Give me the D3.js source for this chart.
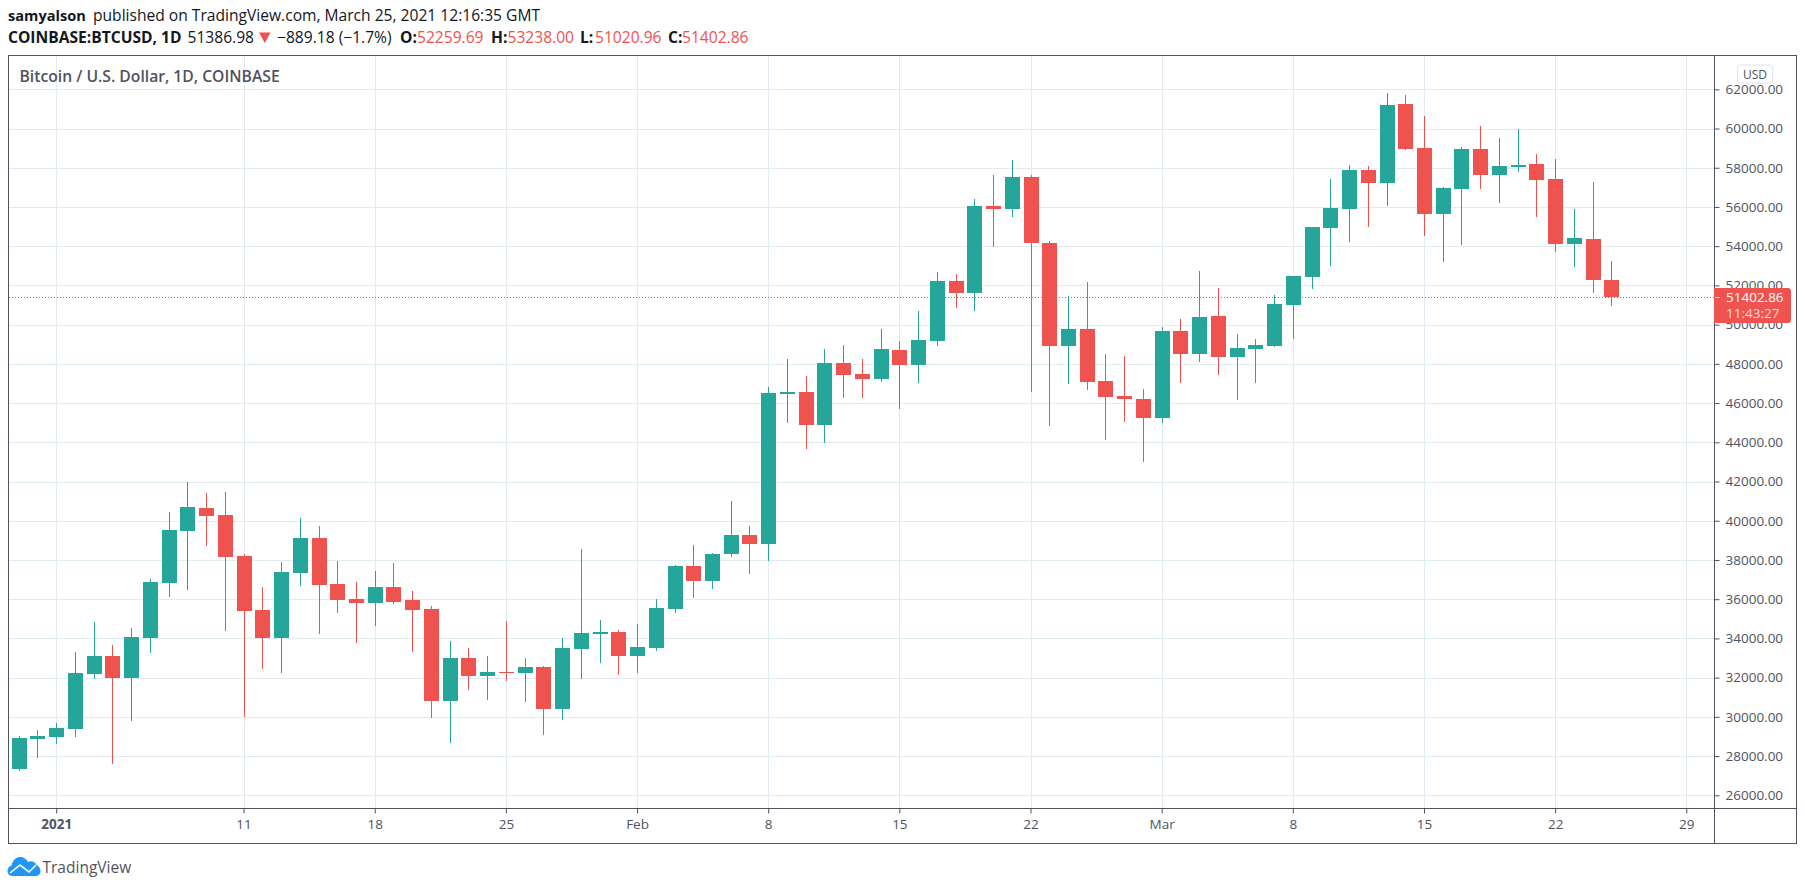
<!DOCTYPE html>
<html>
<head>
<meta charset="utf-8">
<script src="https://cdn.jsdelivr.net/npm/d3@7"></script>
<style>
	html, body { margin: 0; padding: 0; background: #fff; overflow: hidden; }
	text { font-family: "Open Sans", sans-serif; }
</style>
</head>
<body>
<svg id="svg"></svg>
<script>
const days = [
	"2020-12-30", "2020-12-31",
	"2021-01-01", "2021-01-02", "2021-01-03", "2021-01-04", "2021-01-05", "2021-01-06", "2021-01-07", "2021-01-08",
	"2021-01-09", "2021-01-10", "2021-01-11", "2021-01-12", "2021-01-13", "2021-01-14", "2021-01-15", "2021-01-16",
	"2021-01-17", "2021-01-18", "2021-01-19", "2021-01-20", "2021-01-21", "2021-01-22", "2021-01-23", "2021-01-24",
	"2021-01-25", "2021-01-26", "2021-01-27", "2021-01-28", "2021-01-29", "2021-01-30", "2021-01-31",
	"2021-02-01", "2021-02-02", "2021-02-03", "2021-02-04", "2021-02-05", "2021-02-06", "2021-02-07", "2021-02-08",
	"2021-02-09", "2021-02-10", "2021-02-11", "2021-02-12", "2021-02-13", "2021-02-14", "2021-02-15", "2021-02-16",
	"2021-02-17", "2021-02-18", "2021-02-19", "2021-02-20", "2021-02-21", "2021-02-22", "2021-02-23", "2021-02-24",
	"2021-02-25", "2021-02-26", "2021-02-27", "2021-02-28",
	"2021-03-01", "2021-03-02", "2021-03-03", "2021-03-04", "2021-03-05", "2021-03-06", "2021-03-07", "2021-03-08",
	"2021-03-09", "2021-03-10", "2021-03-11", "2021-03-12", "2021-03-13", "2021-03-14", "2021-03-15", "2021-03-16",
	"2021-03-17", "2021-03-18", "2021-03-19", "2021-03-20", "2021-03-21", "2021-03-22", "2021-03-23", "2021-03-24",
	"2021-03-25"
];
const opens = [
	27338, 28867, 28969, 29377, 32182, 33100, 31979, 34018, 36823, 39475,
	40649, 40291, 38200, 35446, 34018, 37333, 39118, 36772, 36007, 35803,
	36619, 35956, 35497, 30805, 32998, 32080, 32284, 32233, 32539, 30397,
	33457, 34222, 34324, 33100, 33508, 35497, 37690, 36925, 38302, 39271,
	38812, 46440, 46542, 44859, 48021, 47460, 47205, 48684, 47919, 49143,
	52203, 51591, 56028, 55875, 57507, 54141, 48888, 49755, 47103, 46338,
	46185, 45216, 49653, 48480, 50418, 48327, 48735, 48888, 50979, 52407,
	54906, 55875, 57864, 57201, 61230, 58986, 55620, 56895, 58935, 57609,
	58017, 58170, 57405, 54090, 54345, 52259.69
];
const highs = [
	29020, 29327, 29684, 33304, 34835, 33661, 34528, 37027, 40444, 41975,
	41414, 41465, 38302, 36619, 37894, 40138, 39730, 37945, 36874, 37435,
	37843, 36415, 35650, 33865, 33508, 33100, 34885, 32998, 32590, 34018,
	38557, 34936, 34426, 34732, 36007, 37741, 38761, 38353, 41005, 39730,
	46797, 48225, 47358, 48735, 48939, 48225, 49755, 49143, 50673, 52662,
	52560, 56385, 57609, 58374, 57609, 54243, 51438, 52152, 48480, 48378,
	46695, 49857, 50265, 52713, 51846, 49500, 49245, 51489, 52458, 54957,
	57405, 58119, 58068, 61791, 61689, 60618, 56997, 59037, 60108, 59496,
	59955, 58680, 58425, 55875, 57252, 53238
];
const lows = [
	27287, 27950, 28663, 29021, 31979, 27643, 29835, 33304, 36160, 36517,
	38761, 34426, 30040, 32488, 32284, 36721, 34273, 35344, 33814, 34681,
	35800, 33355, 29989, 28714, 31417, 30908, 31876, 30805, 29123, 29883,
	31979, 32795, 32182, 32284, 33406, 35344, 36109, 36568, 38200, 37333,
	37996, 45012, 43686, 43992, 46287, 46287, 47103, 45726, 47052, 48939,
	50877, 50724, 53988, 55518, 46593, 44859, 47001, 46695, 44145, 45063,
	43023, 45012, 47052, 48123, 47460, 46185, 47052, 48888, 49296, 51846,
	53019, 54243, 55008, 56079, 58935, 54549, 53223, 54090, 56946, 56232,
	57813, 55518, 53733, 52968, 51642, 51020.96
];
const closes = [
	28919, 29020, 29428, 32233, 33100, 31979, 34069, 36874, 39526, 40699,
	40240, 38149, 35395, 34018, 37384, 39118, 36721, 35956, 35803, 36619,
	35854, 35446, 30805, 32998, 32080, 32284, 32233, 32539, 30397, 33508,
	34273, 34324, 33100, 33559, 35548, 37690, 36925, 38302, 39271, 38812,
	46491, 46542, 44859, 48021, 47409, 47205, 48735, 47919, 49194, 52203,
	51591, 56028, 55875, 57507, 54141, 48888, 49755, 47052, 46287, 46185,
	45216, 49653, 48480, 50367, 48327, 48786, 48939, 51030, 52458, 54957,
	55926, 57864, 57201, 61179, 58935, 55620, 56946, 58935, 57609, 58068,
	58119, 57354, 54090, 54396, 52254, 51402.86
];
const priceTicks = [26000, 28000, 30000, 32000, 34000, 36000, 38000, 40000, 42000, 44000, 46000,
	48000, 50000, 52000, 54000, 56000, 58000, 60000, 62000];
const dateTicks = ["2021-01-01", "2021-01-11", "2021-01-18", "2021-01-25", "2021-02-01", "2021-02-08",
	"2021-02-15", "2021-02-22", "2021-03-01", "2021-03-08", "2021-03-15", "2021-03-22", "2021-03-29"];
const dateLabels = ["2021", "11", "18", "25", "Feb", "8", "15", "22", "Mar", "8", "15", "22", "29"];
const lastPrice = 51402.86;
const lastPriceLabel = "51402.86";
const countdownLabel = "11:43:27";

const up = "#26a69a";
const down = "#ef5350";
const grid = "#e1ecf2";
const frame = "#50535e";

const frameLeft = 8.5, frameRight = 1796.5, frameTop = 55.5, frameBottom = 843.5;
const plotRight = 1714.5, plotBottom = 808.5;

const parseDay = d3.utcParse("%Y-%m-%d");
const snap = (v) => Math.round(v) + 0.5;

const x = d3.scaleUtc()
	.domain([parseDay("2021-01-01"), parseDay("2021-03-29")])
	.range([56.2, 1686.3]);
const y = d3.scaleLinear()
	.domain([26000, 62000])
	.range([795.3, 89.3]);

const svg = d3.select("#svg").attr("width", 1805).attr("height", 890)
	.style("display", "block");

// header lines
const head1 = svg.append("text").attr("x", 8).attr("y", 21)
	.attr("font-size", 15.6).attr("fill", "#131722");
head1.append("tspan").attr("font-weight", 700).attr("font-size", 14.6).text("samyalson");
head1.append("tspan").attr("x", 93).text("published on TradingView.com, March 25, 2021 12:16:35 GMT");

const head2 = svg.append("text").attr("y", 43)
	.attr("font-size", 15.6).attr("fill", "#131722");
head2.append("tspan").attr("x", 8).attr("font-weight", 700).text("COINBASE:BTCUSD, 1D");
head2.append("tspan").attr("x", 187.5).text("51386.98");
head2.append("tspan").attr("x", 277).text("\u2212889.18 (\u22121.7%)");
[["O:", opens[85], 400, 417], ["H:", highs[85], 491, 507.5], ["L:", lows[85], 580, 595], ["C:", closes[85], 668, 682]]
	.forEach(([k, v, kx, vx]) => {
		head2.append("tspan").attr("x", kx).attr("font-weight", 700).text(k);
		head2.append("tspan").attr("x", vx).attr("fill", down).text(v.toFixed(2));
	});
svg.append("path").attr("fill", down).attr("d", "M259,32.5H270.5L264.75,43Z");

// grid
const gridG = svg.append("g");
gridG.selectAll(".hgrid").data(priceTicks).enter().append("line")
	.attr("x1", frameLeft).attr("x2", plotRight)
	.attr("y1", (d) => snap(y(d))).attr("y2", (d) => snap(y(d)))
	.attr("stroke", grid);
gridG.selectAll(".vgrid").data(dateTicks).enter().append("line")
	.attr("x1", (d) => snap(x(parseDay(d)))).attr("x2", (d) => snap(x(parseDay(d))))
	.attr("y1", frameTop).attr("y2", plotBottom)
	.attr("stroke", grid);

// last price line sits under the candles
svg.append("line").attr("shape-rendering", "crispEdges")
	.attr("x1", 9).attr("x2", 1714)
	.attr("y1", snap(y(lastPrice))).attr("y2", snap(y(lastPrice)))
	.attr("stroke", down).attr("stroke-dasharray", "1 2");

// candles
const candles = svg.append("g").attr("shape-rendering", "crispEdges")
	.selectAll("g").data(days).enter().append("g")
	.attr("fill", (d, i) => (closes[i] >= opens[i] ? up : down));
candles.append("rect")
	.attr("x", (d) => Math.round(x(parseDay(d))))
	.attr("width", 1)
	.attr("y", (d, i) => Math.round(y(highs[i])))
	.attr("height", (d, i) => Math.round(y(lows[i])) - Math.round(y(highs[i])) + 1);
candles.append("rect")
	.attr("x", (d) => Math.round(x(parseDay(d))) - 7)
	.attr("width", 15)
	.attr("y", (d, i) => Math.round(y(Math.max(opens[i], closes[i]))))
	.attr("height", (d, i) => Math.max(1, Math.round(y(Math.min(opens[i], closes[i]))) - Math.round(y(Math.max(opens[i], closes[i])))));

// axes
const xAxis = d3.axisBottom(x)
	.tickValues(dateTicks.map(parseDay))
	.tickSize(5)
	.tickPadding(6)
	.tickFormat((d, i) => dateLabels[i]);
const xG = svg.append("g").attr("transform", `translate(0,${plotBottom})`).call(xAxis);
xG.select(".domain").remove();
xG.selectAll("line").attr("stroke", frame);
xG.selectAll("text").attr("font-size", 13.5).attr("fill", frame).attr("font-family", "'Open Sans', sans-serif")
	.attr("font-weight", (d, i) => (i === 0 ? 700 : 400));

const yAxis = d3.axisRight(y)
	.tickValues(priceTicks)
	.tickSize(5)
	.tickPadding(6)
	.tickFormat((d) => d.toFixed(2));
const yG = svg.append("g").attr("transform", `translate(${plotRight},0)`).call(yAxis);
yG.select(".domain").remove();
yG.selectAll("line").attr("stroke", frame);
yG.selectAll("text").attr("font-size", 13.5).attr("fill", frame).attr("font-family", "'Open Sans', sans-serif");

// frame
svg.append("rect").attr("x", frameLeft).attr("y", frameTop)
	.attr("width", frameRight - frameLeft).attr("height", frameBottom - frameTop)
	.attr("fill", "none").attr("stroke", frame);
svg.append("line").attr("x1", frameLeft).attr("x2", frameRight).attr("y1", plotBottom).attr("y2", plotBottom).attr("stroke", frame);
svg.append("line").attr("x1", plotRight).attr("x2", plotRight).attr("y1", frameTop).attr("y2", frameBottom).attr("stroke", frame);

// chart title
svg.append("text").attr("x", 19.5).attr("y", 82)
	.attr("font-size", 15.7).attr("font-weight", 600).attr("fill", frame)
	.text("Bitcoin / U.S. Dollar, 1D, COINBASE");

// currency button
svg.append("rect").attr("x", 1737.5).attr("y", 65).attr("width", 35).attr("height", 18).attr("rx", 3)
	.attr("fill", "#fff").attr("fill-opacity", 0.85).attr("stroke", "#e0e3eb");
svg.append("text").attr("x", 1755).attr("y", 79).attr("text-anchor", "middle")
	.attr("font-size", 12).attr("fill", frame).text("USD");

// last price tag, covers the axis line
svg.append("path").attr("fill", down)
	.attr("d", "M1714,288H1788a3,3 0 0 1 3,3V320a3,3 0 0 1 -3,3H1714Z");
svg.append("line").attr("x1", 1715).attr("x2", 1720)
	.attr("y1", snap(y(lastPrice))).attr("y2", snap(y(lastPrice)))
	.attr("stroke", "#fff");
svg.append("text").attr("x", 1726).attr("y", 302).attr("font-size", 13.5).attr("fill", "#fff").text(lastPriceLabel);
svg.append("text").attr("x", 1726).attr("y", 318).attr("font-size", 13.5).attr("fill", "#fff").attr("fill-opacity", 0.8).text(countdownLabel);

// logo
const logo = svg.append("g");
logo.append("path").attr("fill", "#2196f3")
	.attr("d", "M13,876 C9,876 7.5,873.5 7.5,871 C7.5,868 9.5,866 11.5,865.5 C13,860 16,857 20,857 C24,857 26.5,859 28,862 C31,860.5 35,861.5 36.5,865 C39,866 40.5,868.5 40.5,871 C40.5,874 38,876 35,876 Z");
logo.append("path").attr("fill", "none").attr("stroke", "#fff").attr("stroke-width", 1.6)
	.attr("d", "M10,873 L20,865 L29,872 L36,865");
svg.append("text").attr("x", 42.5).attr("y", 872.5).attr("font-size", 15.5).attr("fill", "#50535e").text("TradingView");
</script>
</body>
</html>
